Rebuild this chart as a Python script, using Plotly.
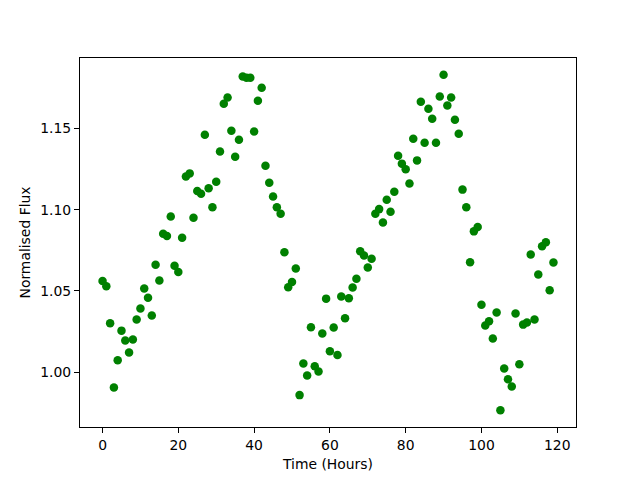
import plotly.graph_objects as go

hours = list(range(120))
flux = [
    1.0562, 1.0529, 1.0301, 0.9906, 1.0074, 1.0256, 1.0195, 1.0121, 1.0201, 1.0324,
    1.0392, 1.0515, 1.0459, 1.0349, 1.0662, 1.0564, 1.0853, 1.0838, 1.0958, 1.0656,
    1.0617, 1.0828, 1.1205, 1.1224, 1.0951, 1.1115, 1.1099, 1.1462, 1.1132, 1.1015,
    1.1173, 1.1359, 1.1653, 1.1691, 1.1487, 1.1327, 1.1431, 1.1820, 1.1812, 1.1812,
    1.1482, 1.1671, 1.1751, 1.1271, 1.1167, 1.1082, 1.1015, 1.0976, 1.0738, 1.0523,
    1.0555, 1.0638, 0.9859, 1.0053, 0.9980, 1.0277, 1.0037, 1.0004, 1.0238, 1.0453,
    1.0129, 1.0275, 1.0106, 1.0466, 1.0332, 1.0455, 1.0521, 1.0576, 1.0744, 1.0718,
    1.0644, 1.0699, 1.0976, 1.1004, 1.0921, 1.1062, 1.0988, 1.1111, 1.1333, 1.1284,
    1.1250, 1.1161, 1.1437, 1.1304, 1.1665, 1.1413, 1.1622, 1.1560, 1.1413, 1.1697,
    1.1831, 1.1642, 1.1691, 1.1554, 1.1468, 1.1124, 1.1015, 1.0677, 1.0867, 1.0894,
    1.0416, 1.0287, 1.0314, 1.0207, 1.0367, 0.9766, 1.0023, 0.9957, 0.9912, 1.0361,
    1.0049, 1.0293, 1.0306, 1.0724, 1.0324, 1.0601, 1.0775, 1.0800, 1.0504, 1.0675,
]

x_title = "Time (Hours)"
y_title = "Normalised Flux"

def padded(vals, frac=0.05):
    lo, hi = min(vals), max(vals)
    d = hi - lo
    return [lo - frac * d, hi + frac * d]

font = dict(family="DejaVu Sans", size=13.9, color="black")

fig = go.Figure(
    go.Scatter(
        x=hours, y=flux, mode="markers",
        marker=dict(color="#008000", size=8.5, line=dict(width=0)),
    )
)

axis_common = dict(
    showgrid=False, zeroline=False, showline=True, mirror=True,
    linecolor="black", linewidth=1, ticks="outside", ticklen=5,
    tickwidth=1, tickcolor="black", tickfont=font,
)

# page body has an 8px margin, so the figure is sized/offset to compensate
fig.update_layout(
    width=624, height=464,
    margin=dict(l=72, r=56, t=50, b=45, autoexpand=False),
    paper_bgcolor="white", plot_bgcolor="white",
    font=font, showlegend=False,
    xaxis=dict(range=padded(hours), dtick=20, tick0=0, automargin=False,
               title=dict(text=x_title, font=font, standoff=8), **axis_common),
    yaxis=dict(range=padded(flux), dtick=0.05, tick0=1.0, tickformat=".2f",
               automargin=False,
               title=dict(text=y_title, font=font, standoff=6), **axis_common),
)

fig.write_html("out.html")
